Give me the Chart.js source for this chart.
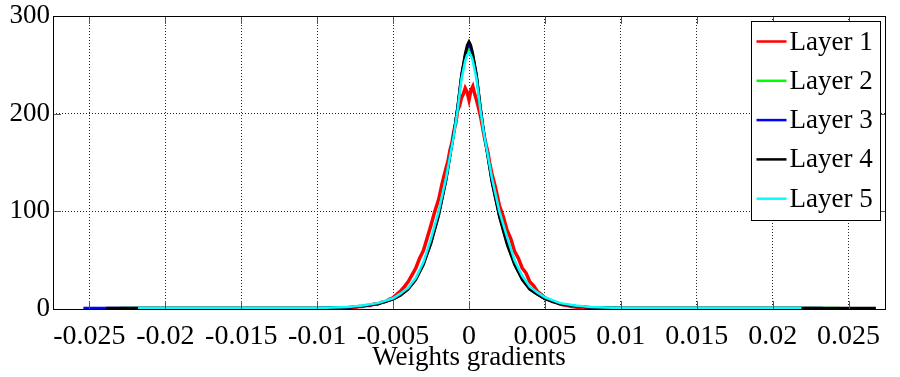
<!DOCTYPE html>
<html>
<head>
<meta charset="utf-8">
<script src="https://cdn.jsdelivr.net/npm/chart.js@4"></script>
<style>
html,body{margin:0;padding:0;background:#fff;}
#wrap{width:900px;height:377px;position:relative;}
</style>
</head>
<body>
<div id="wrap"><canvas id="c" width="900" height="377"></canvas></div>
<script>
// ---- data ----
const xTicks = [-0.025,-0.02,-0.015,-0.01,-0.005,0,0.005,0.01,0.015,0.02,0.025];
const xTickLabels = ['-0.025','-0.02','-0.015','-0.01','-0.005','0','0.005','0.01','0.015','0.02','0.025'];
const yTicks = [0,100,200,300];
const layerNames = ['Layer 1','Layer 2','Layer 3','Layer 4','Layer 5'];
const layerColors = ['#ff0000','#00ff00','#0000ff','#000000','#00ffff'];

// Layer 1 (noisy histogram)
const layer1X = [-0.009,-0.0075,-0.00725,-0.007,-0.00675,-0.0065,-0.00625,-0.006,-0.00575,-0.0055,-0.00525,-0.005,-0.00475,-0.0045,-0.00425,-0.004,-0.00375,-0.0035,-0.00325,-0.003,-0.00275,-0.0025,-0.00225,-0.002,-0.00175,
  -0.0015,-0.001375,-0.00125,-0.001125,-0.001,-0.000875,-0.00075,-0.000625,-0.0005,-0.000375,-0.00025,-0.000125,0,0.000125,0.00025,0.000375,0.0005,0.000625,0.00075,0.000875,0.001,0.001125,0.00125,0.001375,0.0015,
  0.00175,0.002,0.00225,0.0025,0.00275,0.003,0.00325,0.0035,0.00375,0.004,0.00425,0.0045,0.00475,0.005,0.00525,0.0055,0.00575,0.006,0.00625,0.0065,0.00675,0.007,0.00725,0.0075,0.009];
const layer1Y = [0.5,1.5,2.5,2.5,3.5,3.5,5,5,7,7.5,10,11.5,15,18.5,23,28,35,42,52,60,73,86,100,112,130,
  145,152,163,170,182,190,203,208,216,220,226,222,214,224,228,220,214,206,198,188,177,168,160,148,139,
  124,106,95,81,72,59,52,42,37,28,24,18,15,11.5,9.5,7.5,6.5,5,4,3.5,2.5,2,1.5,1,0.5];

// Layers 2-5 share the central bins
const centerX = [-0.01,-0.008,-0.007,-0.006,-0.005,-0.0045,-0.004,-0.0035,-0.003,-0.0025,-0.002,-0.0015,-0.001,-0.00075,-0.0005,-0.00025,-0.000125,0,0.000125,0.00025,0.0005,0.00075,0.001,0.0015,0.002,0.0025,0.003,0.0035,0.004,0.0045,0.005,0.006,0.007,0.008,0.01];
const layer2Y = [1,2,3,5.5,10.5,15,21,31,47,70,97,134,179,206,238,258,264,266,264,258,238,206,178,133,97,70,47,32,21,16,11,5.5,3,2,1];
const layer3Y = [1,1.5,3,5,10,14.5,20.5,30.5,46,68,96,133,180,207,239,260,267,270,267,260,239,207,179,131,95,68,46,31,20.5,15,10.5,5,3,1.5,1];
const layer4Y = [1,1.5,3,5,10,14,20,30,45,67,95,132,180,208,240,262,270,274,270,262,240,208,178,130,94,66,45,30,20,15,10,5,3,1.5,1];
const layer5Y = [1,2,3.5,6,11,16,22,32,48,72,100,135,178,204,235,254,260,262,260,254,235,204,178,135,100,74,50,34,23,17,12,6,3.5,2,1];
// tail extents of layers 2-5 (value ~1 in the tails)
const tailMin = [-0.0230,-0.0254,-0.0239,-0.0218];
const tailMax = [0.0244,0.0233,0.0268,0.0219];
const tailLevel = 1;

// ---- build datasets ----
function pts(xs, ys){ return xs.map((x,i)=>({x:x,y:ys[i]})); }
function withTails(ys, i){
  return [{x:tailMin[i],y:tailLevel}].concat(pts(centerX, ys), [{x:tailMax[i],y:tailLevel}]);
}
const series = [pts(layer1X, layer1Y), withTails(layer2Y,0), withTails(layer3Y,1), withTails(layer4Y,2), withTails(layer5Y,3)];
const drawOrder = [4,3,2,1,0]; // layer 5 on top
const datasets = series.map((d,i)=>({
  label: layerNames[i], data: d, borderColor: layerColors[i], backgroundColor: layerColors[i],
  borderWidth: i===0 ? 3.5 : 2.5, pointRadius: 0, tension: 0, fill: false, order: drawOrder[i]
}));

const FONT = 'Liberation Serif';
const FSIZE = 27;

const boxPlugin = {
  id: 'boxPlugin',
  afterDatasetsDraw(chart){
    const {ctx, chartArea:a, scales} = chart;
    ctx.save();
    ctx.strokeStyle = '#555'; ctx.lineWidth = 1;
    ctx.beginPath();
    xTicks.forEach(v=>{
      const px = Math.round(scales.x.getPixelForValue(v))+0.5;
      ctx.moveTo(px, a.bottom); ctx.lineTo(px, a.bottom-8);
      ctx.moveTo(px, a.top); ctx.lineTo(px, a.top+8);
    });
    yTicks.forEach(v=>{
      const py = Math.round(scales.y.getPixelForValue(v))+0.5;
      ctx.moveTo(a.left, py); ctx.lineTo(a.left+8, py);
      ctx.moveTo(a.right, py); ctx.lineTo(a.right-8, py);
    });
    ctx.stroke();
    ctx.strokeStyle = '#000'; ctx.lineWidth = 1;
    ctx.strokeRect(Math.round(a.left)+0.5, Math.round(a.top)+0.5, Math.round(a.right-a.left), Math.round(a.bottom-a.top));
    ctx.restore();
  },
  afterDraw(chart){
    const {ctx, chartArea:a} = chart;
    const bx = Math.round(a.right) - 133.5, by = Math.round(a.top) + 5.5, bw = 129, bh = 199;
    ctx.save();
    ctx.fillStyle = '#fff';
    ctx.fillRect(bx, by, bw, bh);
    ctx.strokeStyle = '#000'; ctx.lineWidth = 1;
    ctx.strokeRect(bx, by, bw, bh);
    ctx.font = FSIZE + 'px "' + FONT + '"';
    ctx.textBaseline = 'middle'; ctx.textAlign = 'left';
    layerNames.forEach((name,i)=>{
      const cy = by + 20 + i*39.3;
      ctx.strokeStyle = layerColors[i]; ctx.lineWidth = 2.5;
      ctx.beginPath(); ctx.moveTo(bx+5, cy); ctx.lineTo(bx+35, cy); ctx.stroke();
      ctx.fillStyle = '#000';
      ctx.fillText(name, bx+38, cy+1);
    });
    ctx.restore();
  }
};

new Chart(document.getElementById('c'), {
  type: 'line',
  data: { datasets: datasets },
  options: {
    responsive: false, animation: false, devicePixelRatio: 1,
    layout: { padding: { top: 16, right: 15, left: 0, bottom: 0 } },
    plugins: { legend: { display: false }, tooltip: { enabled: false } },
    scales: {
      x: {
        type: 'linear', min: -0.0274, max: 0.0274,
        afterBuildTicks(axis){ axis.ticks = xTicks.map(v=>({value:v})); },
        afterFit(axis){ axis.height = 68; axis.paddingLeft = 0; axis.paddingRight = 0; },
        ticks: {
          autoSkip: false, maxRotation: 0, padding: 11, color: '#000',
          font: { family: FONT, size: 28 },
          callback(v){ const i = xTicks.findIndex(t=>Math.abs(t-v)<1e-9); return i>=0 ? xTickLabels[i] : ''; }
        },
        grid: { color: '#222', lineWidth: 1, drawTicks: false },
        border: { display: false, dash: [1,2] },
        title: { display: true, text: 'Weights gradients', color: '#000', font: { family: FONT, size: FSIZE }, padding: { top: 0, bottom: 3 } }
      },
      y: {
        type: 'linear', min: 0, max: 300,
        afterBuildTicks(axis){ axis.ticks = yTicks.map(v=>({value:v})); },
        afterFit(axis){ axis.width = 53; axis.paddingTop = 0; axis.paddingBottom = 0; },
        ticks: { padding: 3, color: '#000', font: { family: FONT, size: FSIZE } },
        grid: { color: '#222', lineWidth: 1, drawTicks: false },
        border: { display: false, dash: [1,2] }
      }
    }
  },
  plugins: [boxPlugin]
});
</script>
</body>
</html>
